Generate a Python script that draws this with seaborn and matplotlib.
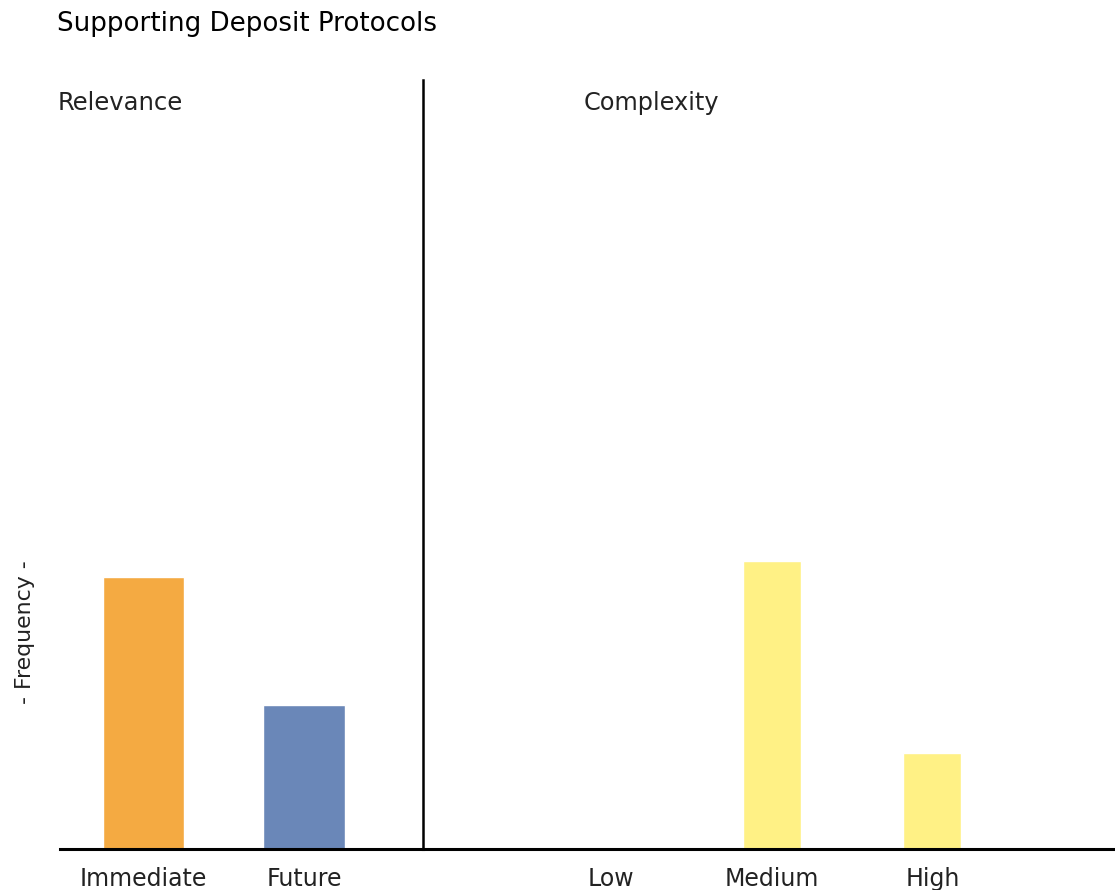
import numpy as np
import pandas as pd
import matplotlib
matplotlib.use('Agg')
import matplotlib.pyplot as plt
import seaborn as sns

# Data
relevance_cats = ['Immediate', 'Future']
relevance_vals = [17, 9]
relevance_colors = ['#F4AA42', '#6A87B8']

complexity_cats = ['Low', 'Medium', 'High']
complexity_vals = [0, 18, 6]
complexity_colors = ['#FFF185', '#FFF185', '#FFF185']

y_max = 48

sns.set_style('white')
plt.rcParams['font.family'] = ['DejaVu Sans']

W, H = 1115, 890
fig = plt.figure(figsize=(W / 100, H / 100), dpi=100)

base_y = 849
top_y = 80
bottom = (H - base_y) / H
height = (base_y - top_y) / H
ax1 = fig.add_axes([60 / W, bottom, (423 - 60) / W, height])
ax2 = fig.add_axes([423 / W, bottom, (W - 423) / W, height])

df1 = pd.DataFrame({'cat': relevance_cats, 'val': relevance_vals})
df2 = pd.DataFrame({'cat': complexity_cats, 'val': complexity_vals})

sns.barplot(data=df1, x='cat', y='val', hue='cat', palette=relevance_colors,
            width=0.51, legend=False, ax=ax1, saturation=1)
sns.barplot(data=df2, x='cat', y='val', hue='cat', palette=complexity_colors,
            width=0.36, legend=False, ax=ax2, saturation=1)

ax1.set_xlim(-0.52, 1.741)
ax2.set_xlim(-1.171, 3.137)

label_color = '#222222'
for ax in (ax1, ax2):
    ax.set_ylim(0, y_max)
    ax.set_xlabel('')
    ax.set_ylabel('')
    ax.set_yticks([])
    ax.tick_params(axis='x', length=0, pad=13, labelsize=17, labelcolor=label_color)
    for s in ax.spines.values():
        s.set_visible(False)
    ax.spines['bottom'].set_visible(True)
    ax.spines['bottom'].set_linewidth(2.2)
    ax.spines['bottom'].set_color('black')

ax2.spines['left'].set_visible(True)
ax2.spines['left'].set_linewidth(1.8)
ax2.spines['left'].set_color('black')

fig.text(57 / W, 1 - 24 / H, 'Supporting Deposit Protocols', fontsize=18.8,
         color='black', ha='left', va='center')
fig.text(58 / W, 1 - 103 / H, 'Relevance', fontsize=17.5, color=label_color,
         ha='left', va='center')
fig.text(584 / W, 1 - 103 / H, 'Complexity', fontsize=17.3, color=label_color,
         ha='left', va='center')
fig.text(25 / W, 1 - 632 / H, '- Frequency -', fontsize=15.8, color=label_color,
         ha='center', va='center', rotation=90)

fig.savefig('out.png', dpi=100)
